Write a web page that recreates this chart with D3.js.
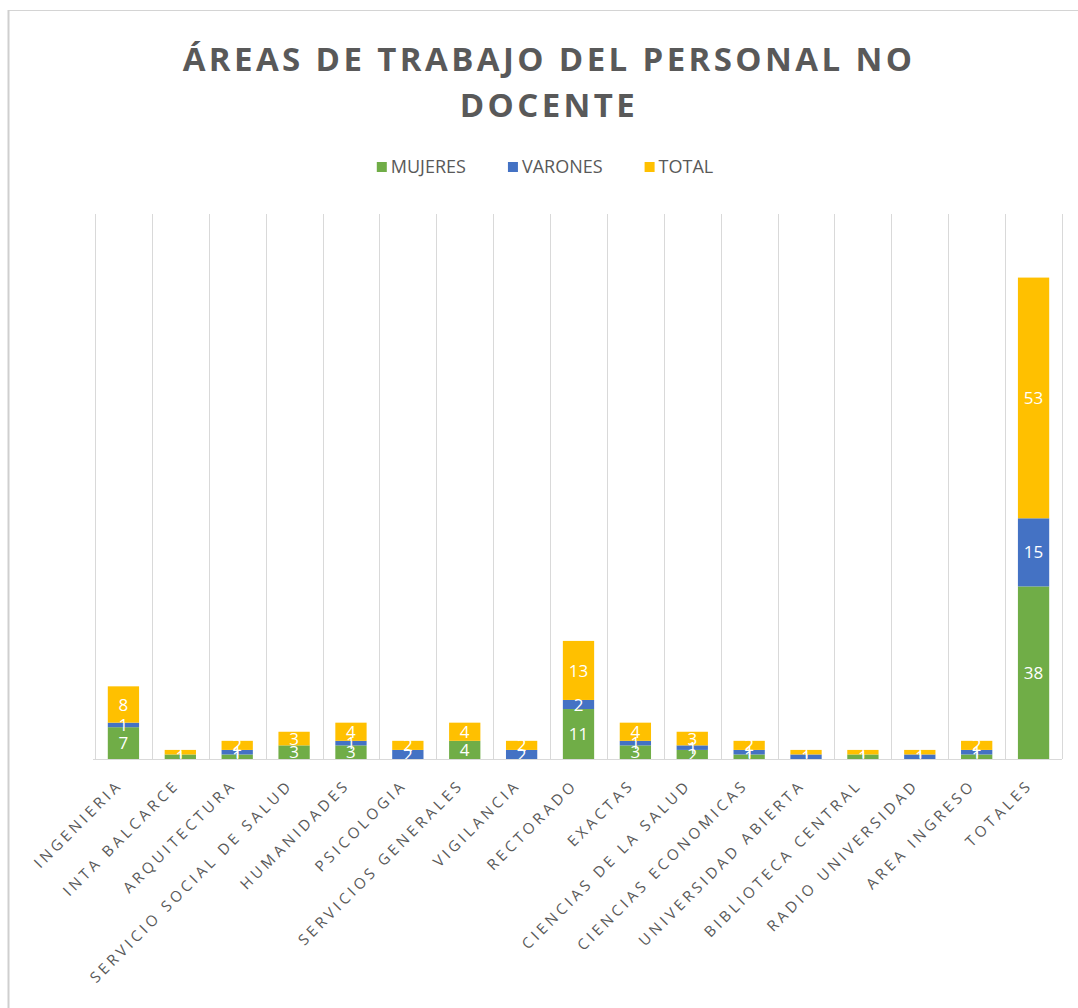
<!DOCTYPE html>
<html lang="es">
<head>
<meta charset="utf-8">
<title>Áreas de trabajo del personal no docente</title>
<script src="https://cdn.jsdelivr.net/npm/d3@7"></script>
<style>
  html, body { margin: 0; padding: 0; background: #fff; }
  svg { display: block; }
</style>
</head>
<body>
<svg id="chart"></svg>
<script>
"use strict";

// ── Data ─────────────────────────────────────────────────────────────────────
const areas = [
  "INGENIERIA", "INTA BALCARCE", "ARQUITECTURA", "SERVICIO SOCIAL DE SALUD",
  "HUMANIDADES", "PSICOLOGIA", "SERVICIOS GENERALES", "VIGILANCIA",
  "RECTORADO", "EXACTAS", "CIENCIAS DE LA SALUD", "CIENCIAS ECONOMICAS",
  "UNIVERSIDAD ABIERTA", "BIBLIOTECA CENTRAL", "RADIO UNIVERSIDAD",
  "AREA INGRESO", "TOTALES"
];
const mujeres = [7, 1, 1, 3, 3, 0, 4, 0, 11, 3, 2, 1, 0, 1, 0, 1, 38];
const varones = [1, 0, 1, 0, 1, 2, 0, 2, 2, 1, 1, 1, 1, 0, 1, 1, 15];
const total   = [8, 1, 2, 3, 4, 2, 4, 2, 13, 4, 3, 2, 1, 1, 1, 2, 53];

const seriesNames  = ["MUJERES", "VARONES", "TOTAL"];
const seriesColors = ["#70AD47", "#4472C4", "#FFC000"];
const yMax = 120;

const titleLines = ["ÁREAS DE TRABAJO DEL PERSONAL NO", "DOCENTE"];

// ── Layout ───────────────────────────────────────────────────────────────────
const totalW = 1078, totalH = 1008;
const plot = { left: 95, right: 1062, top: 214, bottom: 759 };
const textGray = "#595959";
const gridGray = "#d9d9d9";
const font = "'Open Sans', 'DejaVu Sans', sans-serif";

const svg = d3.select("#chart")
  .attr("width", totalW)
  .attr("height", totalH)
  .attr("viewBox", `0 0 ${totalW} ${totalH}`);

// chart border
svg.append("rect")
  .attr("x", 8.5).attr("y", 10.5)
  .attr("width", totalW + 10).attr("height", totalH + 10)
  .attr("fill", "#fff")
  .attr("stroke", "#d4d4d4").attr("stroke-width", 1);
svg.append("line")
  .attr("x1", 8.5).attr("x2", 8.5).attr("y1", 10).attr("y2", totalH)
  .attr("stroke", "#cfcfcf").attr("stroke-width", 2);

// ── Title ────────────────────────────────────────────────────────────────────
const title = svg.append("g").attr("class", "title");
titleLines.forEach((line, i) => {
  title.append("text")
    .attr("x", 549).attr("y", 71 + i * 46)
    .attr("text-anchor", "middle")
    .attr("font-family", font).attr("font-weight", 700)
    .attr("font-size", "33px")
    .attr("letter-spacing", "3.4px")
    .attr("fill", textGray)
    .text(line);
});

// ── Legend ───────────────────────────────────────────────────────────────────
const legend = svg.append("g").attr("class", "legend");
const legGap = 42;
let lx = 0;
seriesNames.forEach((name, i) => {
  const item = legend.append("g").attr("transform", `translate(${lx},0)`);
  item.append("rect")
    .attr("x", 0).attr("y", -5)
    .attr("width", 10).attr("height", 10)
    .attr("fill", seriesColors[i]);
  const t = item.append("text")
    .attr("x", 14).attr("y", 0).attr("dy", "0.35em")
    .attr("font-family", font).attr("font-size", "18px")
    .attr("fill", textGray)
    .text(name);
  lx += 14 + t.node().getComputedTextLength() + legGap;
});
const legW = lx - legGap;
legend.attr("transform", `translate(${545 - legW / 2},167)`);

// ── Scales ───────────────────────────────────────────────────────────────────
const x = d3.scaleBand()
  .domain(areas)
  .range([plot.left, plot.right])
  .paddingInner(0.45)
  .paddingOuter(0.225);

const y = d3.scaleLinear()
  .domain([0, yMax])
  .range([plot.bottom, plot.top]);

const step = x.step();

// vertical gridlines at category boundaries
const grid = svg.append("g").attr("class", "grid");
d3.range(areas.length + 1).forEach(i => {
  const gx = Math.round(plot.left + i * step) + 0.5;
  grid.append("line")
    .attr("x1", gx).attr("x2", gx)
    .attr("y1", plot.top).attr("y2", plot.bottom)
    .attr("stroke", gridGray).attr("stroke-width", 1);
});

// ── Bars ─────────────────────────────────────────────────────────────────────
const rows = areas.map((a, i) => ({ area: a, MUJERES: mujeres[i], VARONES: varones[i], TOTAL: total[i] }));
const stacked = d3.stack().keys(seriesNames)(rows);

const layers = svg.append("g").attr("class", "bars")
  .selectAll("g")
  .data(stacked)
  .join("g")
  .attr("fill", (d, i) => seriesColors[i]);

layers.selectAll("rect")
  .data(d => d)
  .join("rect")
  .attr("x", d => x(d.data.area))
  .attr("width", x.bandwidth())
  .attr("y", d => y(d[1]))
  .attr("height", d => y(d[0]) - y(d[1]));

// data labels (Excel keeps them full size even on thin segments)
const labels = svg.append("g").attr("class", "labels");
stacked.forEach(layer => {
  layer.forEach(d => {
    const v = d[1] - d[0];
    if (!v) return;
    labels.append("text")
      .attr("x", x(d.data.area) + x.bandwidth() / 2)
      .attr("y", (y(d[0]) + y(d[1])) / 2)
      .attr("dy", "0.36em")
      .attr("text-anchor", "middle")
      .attr("font-family", font).attr("font-size", "17px")
      .attr("fill", "#fff")
      .text(v);
  });
});

// ── Axis ─────────────────────────────────────────────────────────────────────
svg.append("line")
  .attr("x1", plot.left - 2).attr("x2", plot.right)
  .attr("y1", plot.bottom + 0.5).attr("y2", plot.bottom + 0.5)
  .attr("stroke", gridGray).attr("stroke-width", 1);

const xAxis = svg.append("g")
  .attr("transform", `translate(0,${plot.bottom})`)
  .call(d3.axisBottom(x).tickSize(0).tickPadding(0));
xAxis.select(".domain").remove();
xAxis.selectAll(".tick text")
  .attr("transform", "translate(0,27) rotate(-45)")
  .attr("x", 0).attr("y", 0).attr("dy", 0)
  .attr("text-anchor", "end")
  .attr("font-family", font).attr("font-size", "15px")
  .attr("letter-spacing", "3.6px")
  .attr("fill", textGray);
</script>
</body>
</html>
